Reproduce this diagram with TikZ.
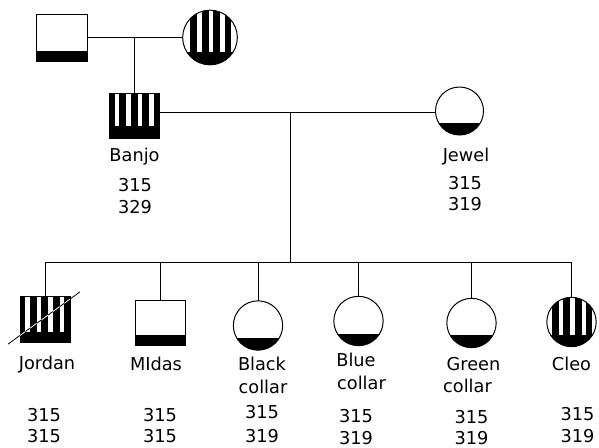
\documentclass[tikz,border=0pt]{standalone}
\usepackage{fontspec}
\setmainfont{DejaVu Sans}
\usetikzlibrary{calc}
\tikzset{
  conn/.style={line width=0.75pt},
  sym/.style={draw, line width=0.75pt, inner sep=0pt, outer sep=0pt},
  % male, carrier: open square with black bottom band
  carriersq/.style={sym, rectangle, minimum width=37.5pt, minimum height=34pt,
    path picture={\begin{scope}[shift={(path picture bounding box.center)}]
      \fill (-40,#1) rectangle (40,40);\end{scope}}},
  % male, affected: vertical stripes over a black bottom band
  affectedsq/.style={sym, rectangle, minimum width=37.5pt, minimum height=34pt,
    path picture={\begin{scope}[shift={(path picture bounding box.center)}]
      \fill (-40,-40) rectangle (40,40);
      \foreach \c in {-17.5,-6,5.5,17}
        \fill[white] (\c-2.4,-40) rectangle (\c+2.4,#1);\end{scope}}},
  % female, carrier
  carrierci/.style={sym, circle, minimum size=37pt,
    path picture={\begin{scope}[shift={(path picture bounding box.center)}]
      \fill (-40,#1) rectangle (40,40);\end{scope}}},
  % female, affected
  affectedci/.style={sym, circle, minimum size=37pt,
    path picture={\begin{scope}[shift={(path picture bounding box.center)}]
      \foreach \a/\b in {-20/-13,-8.5/-1.5,3/10,14.5/20.5}
        \fill (\a,-40) rectangle (\b,40);
      \fill (-40,#1) rectangle (40,40);\end{scope}}},
  lab/.style={font=\fontsize{13.3}{15}\selectfont, inner sep=0pt, anchor=base},
}
\begin{document}
\begin{tikzpicture}[x=0.75pt, y=-0.75pt]
\useasboundingbox (0,0) rectangle (599,447);

% grandparents
\node[carriersq=13, minimum width=38.25pt, minimum height=35.25pt] (gf) at (61.5,37.5) {};
\node[affectedci=14, minimum size=41pt] (gm) at (210,37.5) {};
\coordinate (m1) at ($(gf.east)!0.5!(gm.west)$);

% parents
\node[affectedsq=10] (banjo) at (134.5,116) {};
\node[carrierci=12, minimum size=36pt] (jewel) at (459.5,111) {};
\coordinate (m2) at (290,112);
\coordinate (sib) at (290,262);

% offspring
\node[affectedsq=12] (jordan) at (45,319.5) {};
\node[carriersq=12] (midas) at (160,323) {};
\node[carrierci=12] (black) at (258,325.5) {};
\node[carrierci=13] (blue) at (358.5,321) {};
\node[carrierci=12] (green) at (471.5,323) {};
\node[affectedci=13] (cleo) at (571.5,322) {};

% matings and descent lines
\draw[conn] (gf) -- (gm);
\draw[conn] (m1) -- (m1 |- banjo.north);
\draw[conn] (banjo.east |- m2) -- (jewel.west |- m2);
\draw[conn] (m2) -- (sib);
\draw[conn] (sib -| jordan.north) -- (sib -| cleo.north);
\foreach \k in {jordan,midas,black,blue,green,cleo}
  \draw[conn] (sib -| \k.north) -- (\k.north);

% deceased mark on Jordan: black over white stripes, white over black
\coordinate (d1) at ($(jordan.south west)+(-12,2)$);
\coordinate (d2) at ($(jordan.north east)+(10,-5)$);
\draw[line width=0.6pt] (d1) -- (d2);
\begin{scope}[even odd rule]
  \clip (jordan.south west) rectangle (jordan.north east)
    \foreach \c in {-17.5,-6,5.5,17} {($(jordan.center)+(\c-2.4,-30)$) rectangle ($(jordan.center)+(\c+2.4,12)$)};
  \draw[white, line width=0.6pt] (d1) -- (d2);
\end{scope}

% names and marker alleles
\node[lab] (banjoN) at (134.5,161) {Banjo};
\node[lab] (banjoA) at (135,191) {315};
\node[lab] (banjoB) at (135,213) {329};
\node[lab] (jewelN) at (466,161) {Jewel};
\node[lab] (jewelA) at (465,189) {315};
\node[lab] (jewelB) at (465,210) {319};

\node[lab] (jordanN) at (47,369) {Jordan};
\node[lab] (jordanA) at (44,421) {315};
\node[lab] (jordanB) at (44,442) {315};
\node[lab] (midasN) at (156,370) {MIdas};
\node[lab] (midasA) at (160,421) {315};
\node[lab] (midasB) at (160,442) {315};
\node[lab] (blackN) at (262,370) {Black};
\node[lab] (blackM) at (263,393) {collar};
\node[lab] (blackA) at (262,418) {315};
\node[lab] (blackB) at (262,442) {319};
\node[lab] (blueN) at (356,366) {Blue};
\node[lab] (blueM) at (361.5,389) {collar};
\node[lab] (blueA) at (356,422) {315};
\node[lab] (blueB) at (356,444) {319};
\node[lab] (greenN) at (473.5,370) {Green};
\node[lab] (greenM) at (467.5,392) {collar};
\node[lab] (greenA) at (471.5,423) {315};
\node[lab] (greenB) at (471.5,444.5) {319};
\node[lab] (cleoN) at (571.5,370) {Cleo};
\node[lab] (cleoA) at (577.5,420) {315};
\node[lab] (cleoB) at (577.5,442) {319};
\end{tikzpicture}
\end{document}
